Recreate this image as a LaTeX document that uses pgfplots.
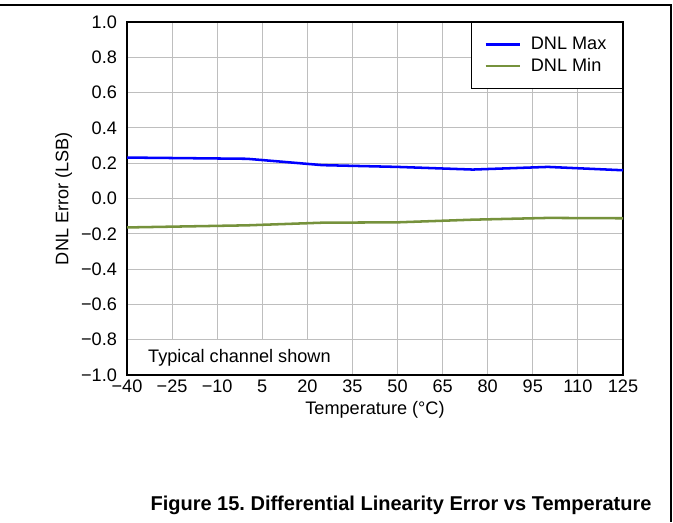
\documentclass[border=0pt]{standalone}
\usepackage{pgfplots}
\pgfplotsset{compat=1.18}
\usepackage{fontspec}
\setmainfont{Liberation Sans}
\frenchspacing
\definecolor{dnlmax}{RGB}{0,0,255}
\definecolor{dnlmin}{RGB}{118,146,60}
\definecolor{gridgray}{RGB}{190,190,190}
\begin{document}
\begin{tikzpicture}
\path[use as bounding box] (0,0) rectangle (504.75pt,391.5pt);
\draw[line width=0.9pt] (0,387.75pt) -- (503.25pt,387.75pt) -- (503.25pt,0);
\begin{axis}[
  at={(95.25pt,110.25pt)}, anchor=south west,
  scale only axis, width=372pt, height=264.75pt,
  xmin=-40, xmax=125, ymin=-1, ymax=1,
  xtick={-40,-25,...,125},
  xticklabels={−40,−25,−10,5,20,35,50,65,80,95,110,125},
  ytick={-1,-0.8,...,1.01},
  yticklabels={−1.0,−0.8,−0.6,−0.4,−0.2,0.0,0.2,0.4,0.6,0.8,1.0},
  yticklabel style={xshift=-4pt},
  tick style={draw=none},
  grid=major,
  major grid style={gridgray, line width=0.75pt},
  axis line style={line width=2pt},
  font=\fontsize{13.6}{15}\selectfont,
  xlabel={Temperature (°C)},
  ylabel={DNL Error (LSB)},
  legend style={at={(1,1)}, anchor=north east, draw=black, line width=0.9pt, fill=white,
    font=\fontsize{13.6}{15}\selectfont, inner xsep=10pt, inner ysep=9pt, row sep=1pt},
  legend image code/.code={\draw[#1, line width=1.6pt] (0cm,0cm) -- (0.92cm,0cm);},
  legend cell align=left,
]
\fill[white] ([xshift=1pt,yshift=1pt]axis cs:-40,-1) rectangle (axis cs:34,-0.8);
\node[anchor=west, font=\fontsize{13.6}{15}\selectfont] at (axis cs:-34.5,-0.9) {Typical channel shown};
\addplot[dnlmax, line width=1.9pt] coordinates {
(-40,0.232) (0,0.225) (25,0.189) (50,0.179) (75,0.164) (100,0.179) (125,0.16)};
\addlegendentry{\hspace{5pt}DNL Max}
\addplot[dnlmin, line width=1.9pt] coordinates {
(-40,-0.164) (0,-0.152) (25,-0.137) (50,-0.135) (75,-0.12) (100,-0.11) (125,-0.112)};
\addlegendentry{\hspace{5pt}DNL Min}
\end{axis}
\node[font=\bfseries\fontsize{15}{17}\selectfont] at (300.75pt,12.75pt) {Figure 15. Differential Linearity Error vs Temperature};
\end{tikzpicture}
\end{document}
